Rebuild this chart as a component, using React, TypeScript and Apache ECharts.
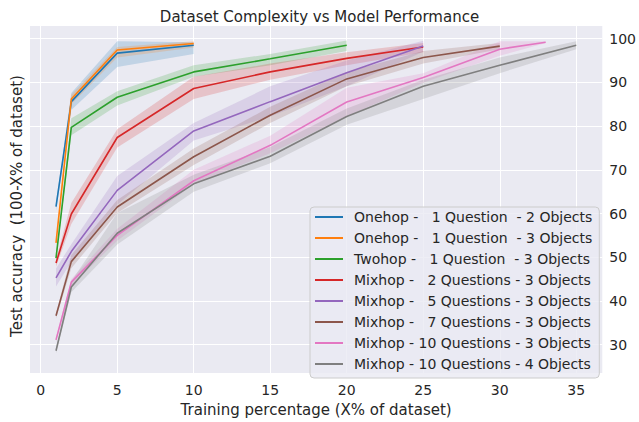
import React, { useEffect, useRef } from "react";
import * as echarts from "echarts";

const TITLE = "Dataset Complexity vs Model Performance";
const X_NAME = "Training percentage (X% of dataset)";
const Y_NAME = "Test accuracy  (100-X% of dataset)";

const LABELS = [
  "Onehop -   1 Question  - 2 Objects",
  "Onehop -   1 Question  - 3 Objects",
  "Twohop -   1 Question  - 3 Objects",
  "Mixhop -   2 Questions - 3 Objects",
  "Mixhop -   5 Questions - 3 Objects",
  "Mixhop -   7 Questions - 3 Objects",
  "Mixhop - 10 Questions - 3 Objects",
  "Mixhop - 10 Questions - 4 Objects",
];

const COLORS = ["#1f77b4", "#ff7f0e", "#2ca02c", "#d62728", "#9467bd", "#8c564b", "#e377c2", "#7f7f7f"];

const X_TICKS = [0, 5, 10, 15, 20, 25, 30, 35];
const Y_TICKS = [30, 40, 50, 60, 70, 80, 90, 100];

// x positions (training percentage)
const X_ONEHOP = [1, 2, 5, 10];
const X_TWOHOP = [1, 2, 5, 10, 15, 20];
const X_MIX_2_5 = [1, 2, 5, 10, 15, 20, 25];
const X_MIX_7 = [1, 2, 5, 10, 15, 20, 25, 30];
const X_MIX_10_3 = [1, 2, 5, 10, 15, 20, 25, 30, 33];
const X_MIX_10_4 = [1, 2, 5, 10, 15, 20, 25, 30, 35];

// Onehop 1Q 2 objects
const ONEHOP_2_MEAN = [61.6, 85.6, 96.7, 98.5];
const ONEHOP_2_LO = [60.6, 83.7, 93.5, 96.5];
const ONEHOP_2_HI = [62.4, 87.6, 99.4, 99.2];
// Onehop 1Q 3 objects
const ONEHOP_3_MEAN = [53.3, 86.2, 97.4, 98.9];
const ONEHOP_3_LO = [52.5, 85.0, 95.7, 98.0];
const ONEHOP_3_HI = [54.0, 87.2, 98.1, 99.4];
// Twohop 1Q 3 objects
const TWOHOP_MEAN = [49.8, 79.7, 86.6, 92.4, 95.4, 98.5];
const TWOHOP_LO = [49.2, 77.9, 84.7, 91.3, 93.9, 97.2];
const TWOHOP_HI = [50.4, 81.8, 88.0, 93.9, 96.5, 99.6];
// Mixhop 2Q
const MIX2_MEAN = [48.7, 59.9, 77.4, 88.6, 92.4, 95.5, 98.1];
const MIX2_LO = [47.8, 57.6, 75.1, 86.2, 90.6, 93.9, 96.9];
const MIX2_HI = [49.5, 62.4, 79.3, 91.3, 94.3, 96.9, 99.0];
// Mixhop 5Q
const MIX5_MEAN = [45.3, 51.3, 65.3, 78.9, 85.6, 92.2, 98.3];
const MIX5_LO = [43.3, 49.0, 62.0, 76.7, 82.2, 89.1, 97.0];
const MIX5_HI = [47.4, 53.0, 68.6, 80.7, 89.1, 95.0, 99.5];
// Mixhop 7Q
const MIX7_MEAN = [36.6, 49.0, 61.5, 73.0, 82.5, 90.8, 95.7, 98.3];
const MIX7_LO = [36.0, 47.5, 60.1, 71.1, 80.7, 89.1, 94.3, 97.6];
const MIX7_HI = [37.2, 50.5, 63.1, 74.9, 84.4, 92.4, 97.2, 99.0];
// Mixhop 10Q 3 objects
const MIX10_3_MEAN = [31.1, 44.3, 55.0, 67.5, 75.6, 85.5, 91.1, 97.6, 99.2];
const MIX10_3_LO = [30.5, 43.5, 53.8, 66.7, 73.8, 82.2, 89.9, 96.1, 99.0];
const MIX10_3_HI = [31.7, 45.0, 56.5, 70.0, 77.8, 88.8, 92.1, 99.4, 99.4];
// Mixhop 10Q 4 objects
const MIX10_4_MEAN = [28.6, 43.2, 55.5, 66.8, 73.1, 82.2, 89.1, 93.9, 98.5];
const MIX10_4_LO = [28.0, 42.0, 52.9, 65.0, 71.5, 80.3, 86.2, 92.1, 97.6];
const MIX10_4_HI = [29.2, 44.5, 60.1, 68.9, 75.2, 84.0, 90.6, 95.7, 99.4];

const SERIES_X = [X_ONEHOP, X_ONEHOP, X_TWOHOP, X_MIX_2_5, X_MIX_2_5, X_MIX_7, X_MIX_10_3, X_MIX_10_4];
const SERIES_MEAN = [ONEHOP_2_MEAN, ONEHOP_3_MEAN, TWOHOP_MEAN, MIX2_MEAN, MIX5_MEAN, MIX7_MEAN, MIX10_3_MEAN, MIX10_4_MEAN];
const SERIES_LO = [ONEHOP_2_LO, ONEHOP_3_LO, TWOHOP_LO, MIX2_LO, MIX5_LO, MIX7_LO, MIX10_3_LO, MIX10_4_LO];
const SERIES_HI = [ONEHOP_2_HI, ONEHOP_3_HI, TWOHOP_HI, MIX2_HI, MIX5_HI, MIX7_HI, MIX10_3_HI, MIX10_4_HI];

const FONT = "DejaVu Sans";
const TEXT = "#262626";

function hexA(hex: string, a: number) {
  const r = parseInt(hex.slice(1, 3), 16);
  const g = parseInt(hex.slice(3, 5), 16);
  const b = parseInt(hex.slice(5, 7), 16);
  return `rgba(${r},${g},${b},${a})`;
}

export default function App() {
  const ref = useRef<HTMLDivElement>(null);
  useEffect(() => {
    if (!ref.current) return;
    const chart = echarts.init(ref.current, undefined, { renderer: "svg" });
    const series: any[] = [];
    LABELS.forEach((label, i) => {
      const xs = SERIES_X[i];
      const lo = SERIES_LO[i];
      const hi = SERIES_HI[i];
      const color = COLORS[i];
      series.push({
        type: "custom",
        name: `band${i}`,
        silent: true,
        z: 2,
        data: xs.map((x, j) => [x, lo[j], hi[j]]),
        encode: { x: 0, y: [1, 2] },
        renderItem: (params: any, api: any) => {
          if (params.dataIndex !== 0) return null;
          const top = xs.map((x, j) => api.coord([x, hi[j]]));
          const bottom = xs.map((x, j) => api.coord([x, lo[j]])).reverse();
          return {
            type: "polygon",
            shape: { points: top.concat(bottom) },
            style: { fill: hexA(color, 0.2), stroke: "none" },
          };
        },
      });
      series.push({
        type: "line",
        name: label,
        data: xs.map((x, j) => [x, SERIES_MEAN[i][j]]),
        showSymbol: false,
        symbol: "none",
        color,
        lineStyle: { color, width: 1.6 },
        itemStyle: { color },
        z: 3,
      });
    });

    chart.setOption({
      animation: false,
      backgroundColor: "#ffffff",
      title: {
        text: TITLE,
        left: "center",
        top: 4,
        textStyle: { fontFamily: FONT, fontSize: 15, fontWeight: "normal", color: TEXT },
      },
      graphic: [
        {
          type: "text",
          x: 17,
          y: 206,
          rotation: Math.PI / 2,
          silent: true,
          style: {
            text: Y_NAME,
            fontFamily: FONT,
            fontSize: 15,
            fill: TEXT,
            textAlign: "center",
            textVerticalAlign: "middle",
          },
        },
      ],
      grid: {
        left: 30,
        right: 35.3,
        top: 26,
        bottom: 35.5,
        show: true,
        backgroundColor: "#EAEAF2",
        borderWidth: 0,
        containLabel: false,
      },
      legend: {
        orient: "vertical",
        left: 310,
        top: 207,
        data: LABELS.map((name, i) => ({ name, icon: "rect", itemStyle: { color: COLORS[i] } })),
        itemWidth: 28,
        itemHeight: 2,
        itemGap: 7,
        padding: [3, 7, 7, 5],
        backgroundColor: "rgba(234,234,242,0.8)",
        borderColor: "#cccccc",
        borderWidth: 1,
        borderRadius: 4,
        formatter: (name: string) => `{p|}${name}`,
        textStyle: {
          fontFamily: FONT,
          fontSize: 14,
          color: TEXT,
          lineHeight: 14,
          rich: { p: { width: 6 } },
        },
        selectedMode: false,
      },
      xAxis: {
        type: "value",
        min: -0.7,
        max: 36.7,
        name: X_NAME,
        nameLocation: "middle",
        nameGap: 25,
        nameTextStyle: { fontFamily: FONT, fontSize: 15, color: TEXT },
        axisLine: { show: false },
        axisTick: { show: false, customValues: X_TICKS },
        axisLabel: { customValues: X_TICKS, fontFamily: FONT, fontSize: 14, color: TEXT, margin: 10 },
        splitLine: { show: true, lineStyle: { color: "#ffffff", width: 1 } },
      },
      yAxis: {
        type: "value",
        position: "right",
        min: 23.5,
        max: 102.9,
        axisLine: { show: false },
        axisTick: { show: false, customValues: Y_TICKS },
        axisLabel: { customValues: Y_TICKS, fontFamily: FONT, fontSize: 14, color: TEXT, margin: 7 },
        splitLine: { show: true, lineStyle: { color: "#ffffff", width: 1 } },
      },
      series,
    });
    return () => chart.dispose();
  }, []);
  return (
    <div
      ref={ref}
      style={{ position: "absolute", left: 0, top: 0, width: 639, height: 422 }}
    />
  );
}
